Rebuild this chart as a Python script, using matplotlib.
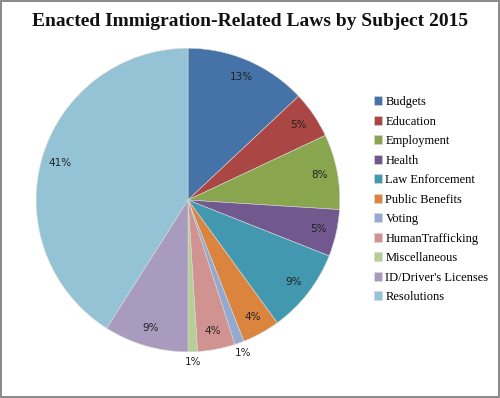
import matplotlib
matplotlib.use('Agg')
import matplotlib.pyplot as plt
import numpy as np

# data
subjects = ['Budgets', 'Education', 'Employment', 'Health', 'Law Enforcement',
            'Public Benefits', 'Voting', 'HumanTrafficking', 'Miscellaneous',
            "ID/Driver's Licenses", 'Resolutions']
shares = [13, 5, 8, 5, 9, 4, 1, 4, 1, 9, 41]
colors = ['#4572A7', '#AA4643', '#89A54E', '#71588F', '#4198AF', '#DB843D',
          '#93A9CF', '#D19392', '#B9CD96', '#A99BBD', '#93C3D5']

fig = plt.figure(figsize=(5, 3.98), dpi=100, linewidth=1.5, edgecolor='#8c8c8c')
ax = fig.add_axes([0.042, 0.0779, 0.668, 0.839])

wedges, texts, autotexts = ax.pie(shares, colors=colors, startangle=90, counterclock=False,
                                  autopct='%1.0f%%', pctdistance=0.88,
                                  wedgeprops=dict(edgecolor='#d8d8d8', linewidth=0.4),
                                  textprops=dict(fontsize=7.5, color='#222222', family='DejaVu Sans'))
# the tiny slices get their labels just outside the pie
for w, t, v in zip(wedges, autotexts, shares):
    if v <= 1:
        ang = np.deg2rad((w.theta1 + w.theta2) / 2)
        t.set_position((1.07 * np.cos(ang), 1.07 * np.sin(ang)))
ax.set_xlim(-1.1, 1.1)
ax.set_ylim(-1.1, 1.1)
ax.set_aspect('equal')

fig.text(0.5, 0.945, 'Enacted Immigration-Related Laws by Subject 2015', ha='center', va='center',
         fontsize=14, fontweight='bold', family='Liberation Serif', color='#111111')

fig.legend(wedges, subjects, loc='upper left', bbox_to_anchor=(0.737, 0.771), frameon=False,
           prop=dict(family='Liberation Serif', size=9), handlelength=0.7, handleheight=0.7,
           handletextpad=0.25, labelspacing=0.6, borderaxespad=0)

fig.savefig('out.png', dpi=100, facecolor='white', edgecolor=fig.get_edgecolor())
